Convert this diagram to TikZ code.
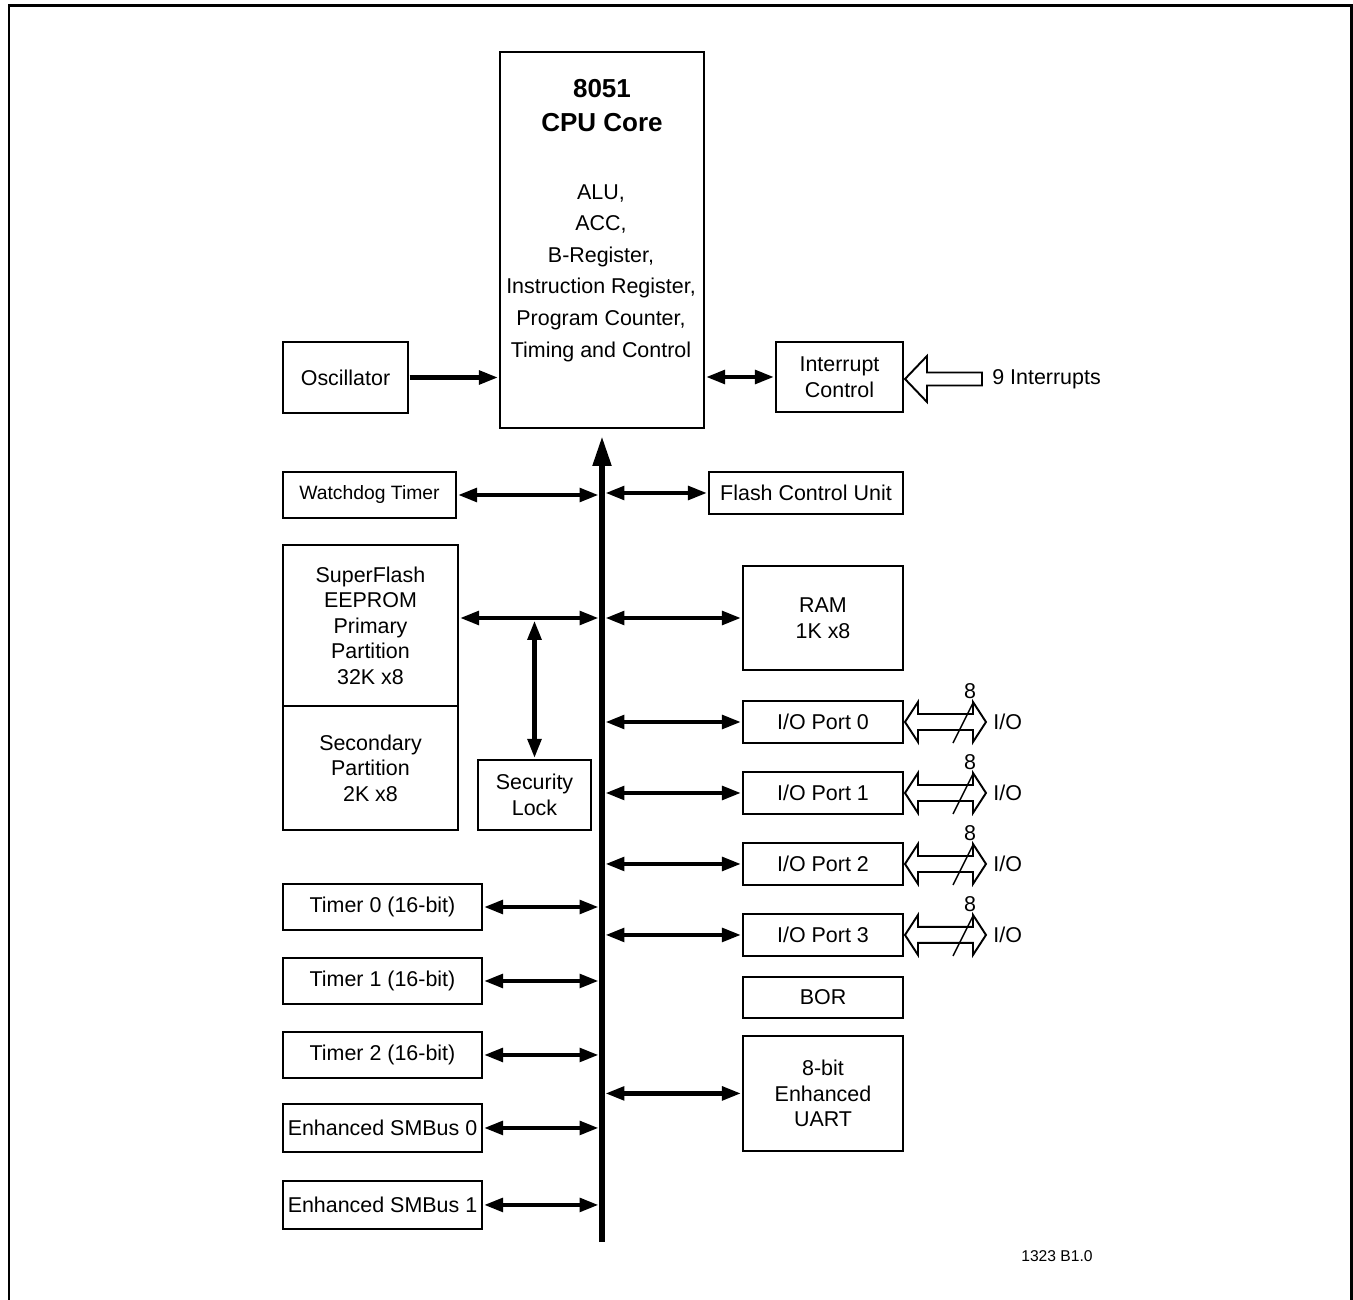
\documentclass[tikz,border=0pt]{standalone}
\usepackage{fontspec}
\setmainfont{Liberation Sans}
\usetikzlibrary{arrows.meta,positioning,calc}
\newcommand{\blkfont}{\fontsize{12.2}{14.5}\selectfont}

\begin{document}
\begin{tikzpicture}[x=0.02cm,y=-0.02cm,>={Triangle[length=11pt,width=7.5pt]},
  blk/.style={draw,line width=1.1pt,inner sep=0pt,outer sep=0pt,align=center,font=\blkfont},
  lbl/.style={inner sep=0pt,font=\blkfont},
  link/.style={<->,line width=2.7pt,shorten <=1pt,shorten >=1pt},
  tobus/.style={link,shorten >=1.8pt},
  frombus/.style={link,shorten <=1.8pt},
  hollowarrow/.style={draw,line width=1.1pt,fill=white,line join=miter}]

  \useasboundingbox (0,0) rectangle (1353,1300);
  \draw[line width=1.7pt] (9,1300) -- (9,6) -- (1351,6) -- (1351,1300);

  % core
  \node[blk,minimum width=4.08cm,minimum height=7.52cm] (cpu) at (602,240) {};
  \node[align=center,inner sep=0pt,font=\fontsize{14.8}{19.4}\selectfont\bfseries] (cputitle) at (602,106) {8051\\CPU Core};
  \node[align=center,inner sep=0pt,font=\fontsize{12.2}{18}\selectfont] (cpulist) at (601,273) {ALU,\\ACC,\\B-Register,\\Instruction Register,\\Program Counter,\\Timing and Control};

  \node[blk,minimum width=2.5cm,minimum height=1.42cm] (osc) at (345.5,377.5) {Oscillator};
  \node[blk,minimum width=2.54cm,minimum height=1.4cm] (irq) at (839.5,377) {Interrupt\\Control};

  % left side
  \node[blk,minimum width=3.46cm,minimum height=0.92cm,font=\fontsize{11}{13}\selectfont] (wdt) at (369.5,495) {Watchdog Timer};
  \node[blk,minimum width=3.5cm,minimum height=3.22cm] (prim) at (370.5,625.5) {SuperFlash\\EEPROM\\Primary\\Partition\\32K x8};
  \node[blk,minimum width=3.5cm,minimum height=2.48cm,below=0pt of prim] (sec) {Secondary\\Partition\\2K x8};
  \node[blk,minimum width=2.26cm,minimum height=1.4cm] (lock) at (534.5,795) {Security\\Lock};
  \node[blk,minimum width=3.98cm,minimum height=0.92cm] (t0) at (382.5,907) {Timer 0 (16-bit)};
  \node[blk,minimum width=3.98cm,minimum height=0.92cm,below=0.56cm of t0] (t1) {Timer 1 (16-bit)};
  \node[blk,minimum width=3.98cm,minimum height=0.92cm,below=0.56cm of t1] (t2) {Timer 2 (16-bit)};
  \node[blk,minimum width=3.98cm,minimum height=0.96cm,below=0.52cm of t2] (sm0) {Enhanced SMBus 0};
  \node[blk,minimum width=3.98cm,minimum height=0.96cm,below=0.58cm of sm0] (sm1) {Enhanced SMBus 1};

  % right side
  \node[blk,minimum width=3.88cm,minimum height=0.84cm] (fcu) at (806,493) {Flash Control Unit};
  \node[blk,minimum width=3.2cm,minimum height=2.08cm] (ram) at (823,618) {RAM\\1K x8};
  \node[blk,minimum width=3.2cm,minimum height=0.84cm] (port0) at (823,722) {I/O Port 0};
  \node[blk,minimum width=3.2cm,minimum height=0.84cm,below=0.58cm of port0] (port1) {I/O Port 1};
  \node[blk,minimum width=3.2cm,minimum height=0.84cm,below=0.58cm of port1] (port2) {I/O Port 2};
  \node[blk,minimum width=3.2cm,minimum height=0.84cm,below=0.58cm of port2] (port3) {I/O Port 3};
  \node[blk,minimum width=3.2cm,minimum height=0.82cm,below=0.42cm of port3] (bor) {BOR};
  \node[blk,minimum width=3.2cm,minimum height=2.3cm,below=0.36cm of bor] (uart) {8-bit\\Enhanced\\UART};

  % bus
  \coordinate (busT) at (602,436);
  \coordinate (busB) at (602,1242);
  \draw[line width=3.4pt,-{Triangle[length=17pt,width=10pt]}] (busB) -- (busT);

  \draw[->,line width=2.7pt,shorten <=1pt,shorten >=1pt] (osc) -- (osc -| cpu.west);
  \draw[link] (cpu.east |- irq) -- (irq);
  \draw[hollowarrow] ($(irq.east)+(2,2)$) -- ++(22,-23) -- ++(0,16.5) -- ++(55,0) -- ++(0,13) -- ++(-55,0) -- ++(0,16.5) -- cycle;
  \node[lbl,anchor=west] (irqin) at ($(irq.east)+(89,2)$) {9 Interrupts};

  \draw[tobus] (wdt) -- (wdt -| busT);
  \draw[frombus] (fcu -| busT) -- (fcu);
  \coordinate (fjoin) at (lock |- ram);
  \draw[tobus] (fjoin -| prim.east) -- (fjoin -| busT);
  \draw[link,shorten <=1.4pt] (fjoin) -- (lock);
  \draw[frombus] (ram -| busT) -- (ram);
  \draw[frombus] (uart -| busT) -- (uart);
  \foreach \t in {t0,t1,t2,sm0,sm1}
    \draw[tobus] (\t) -- (\t -| busT);

  \foreach \p in {0,...,3}{
    \draw[frombus] (port\p -| busT) -- (port\p);
    \draw[hollowarrow] ($(port\p.east)+(2,0)$) -- ++(13,-20) -- ++(0,12) -- ++(55,0) -- ++(0,-12) -- ++(13,20) -- ++(-13,20) -- ++(0,-12) -- ++(-55,0) -- ++(0,12) -- cycle;
    \draw[line width=0.8pt] ($(port\p.east)+(50,21)$) -- ++(20,-40);
    \node[lbl] (w\p) at ($(port\p.east)+(67,-31)$) {8};
    \node[lbl,anchor=west] (io\p) at ($(port\p.east)+(90,0)$) {I/O};
  }

  \node[inner sep=0pt,font=\fontsize{8.9}{10}\selectfont] (figno) at (1057,1256) {1323 B1.0};
\end{tikzpicture}
\end{document}
